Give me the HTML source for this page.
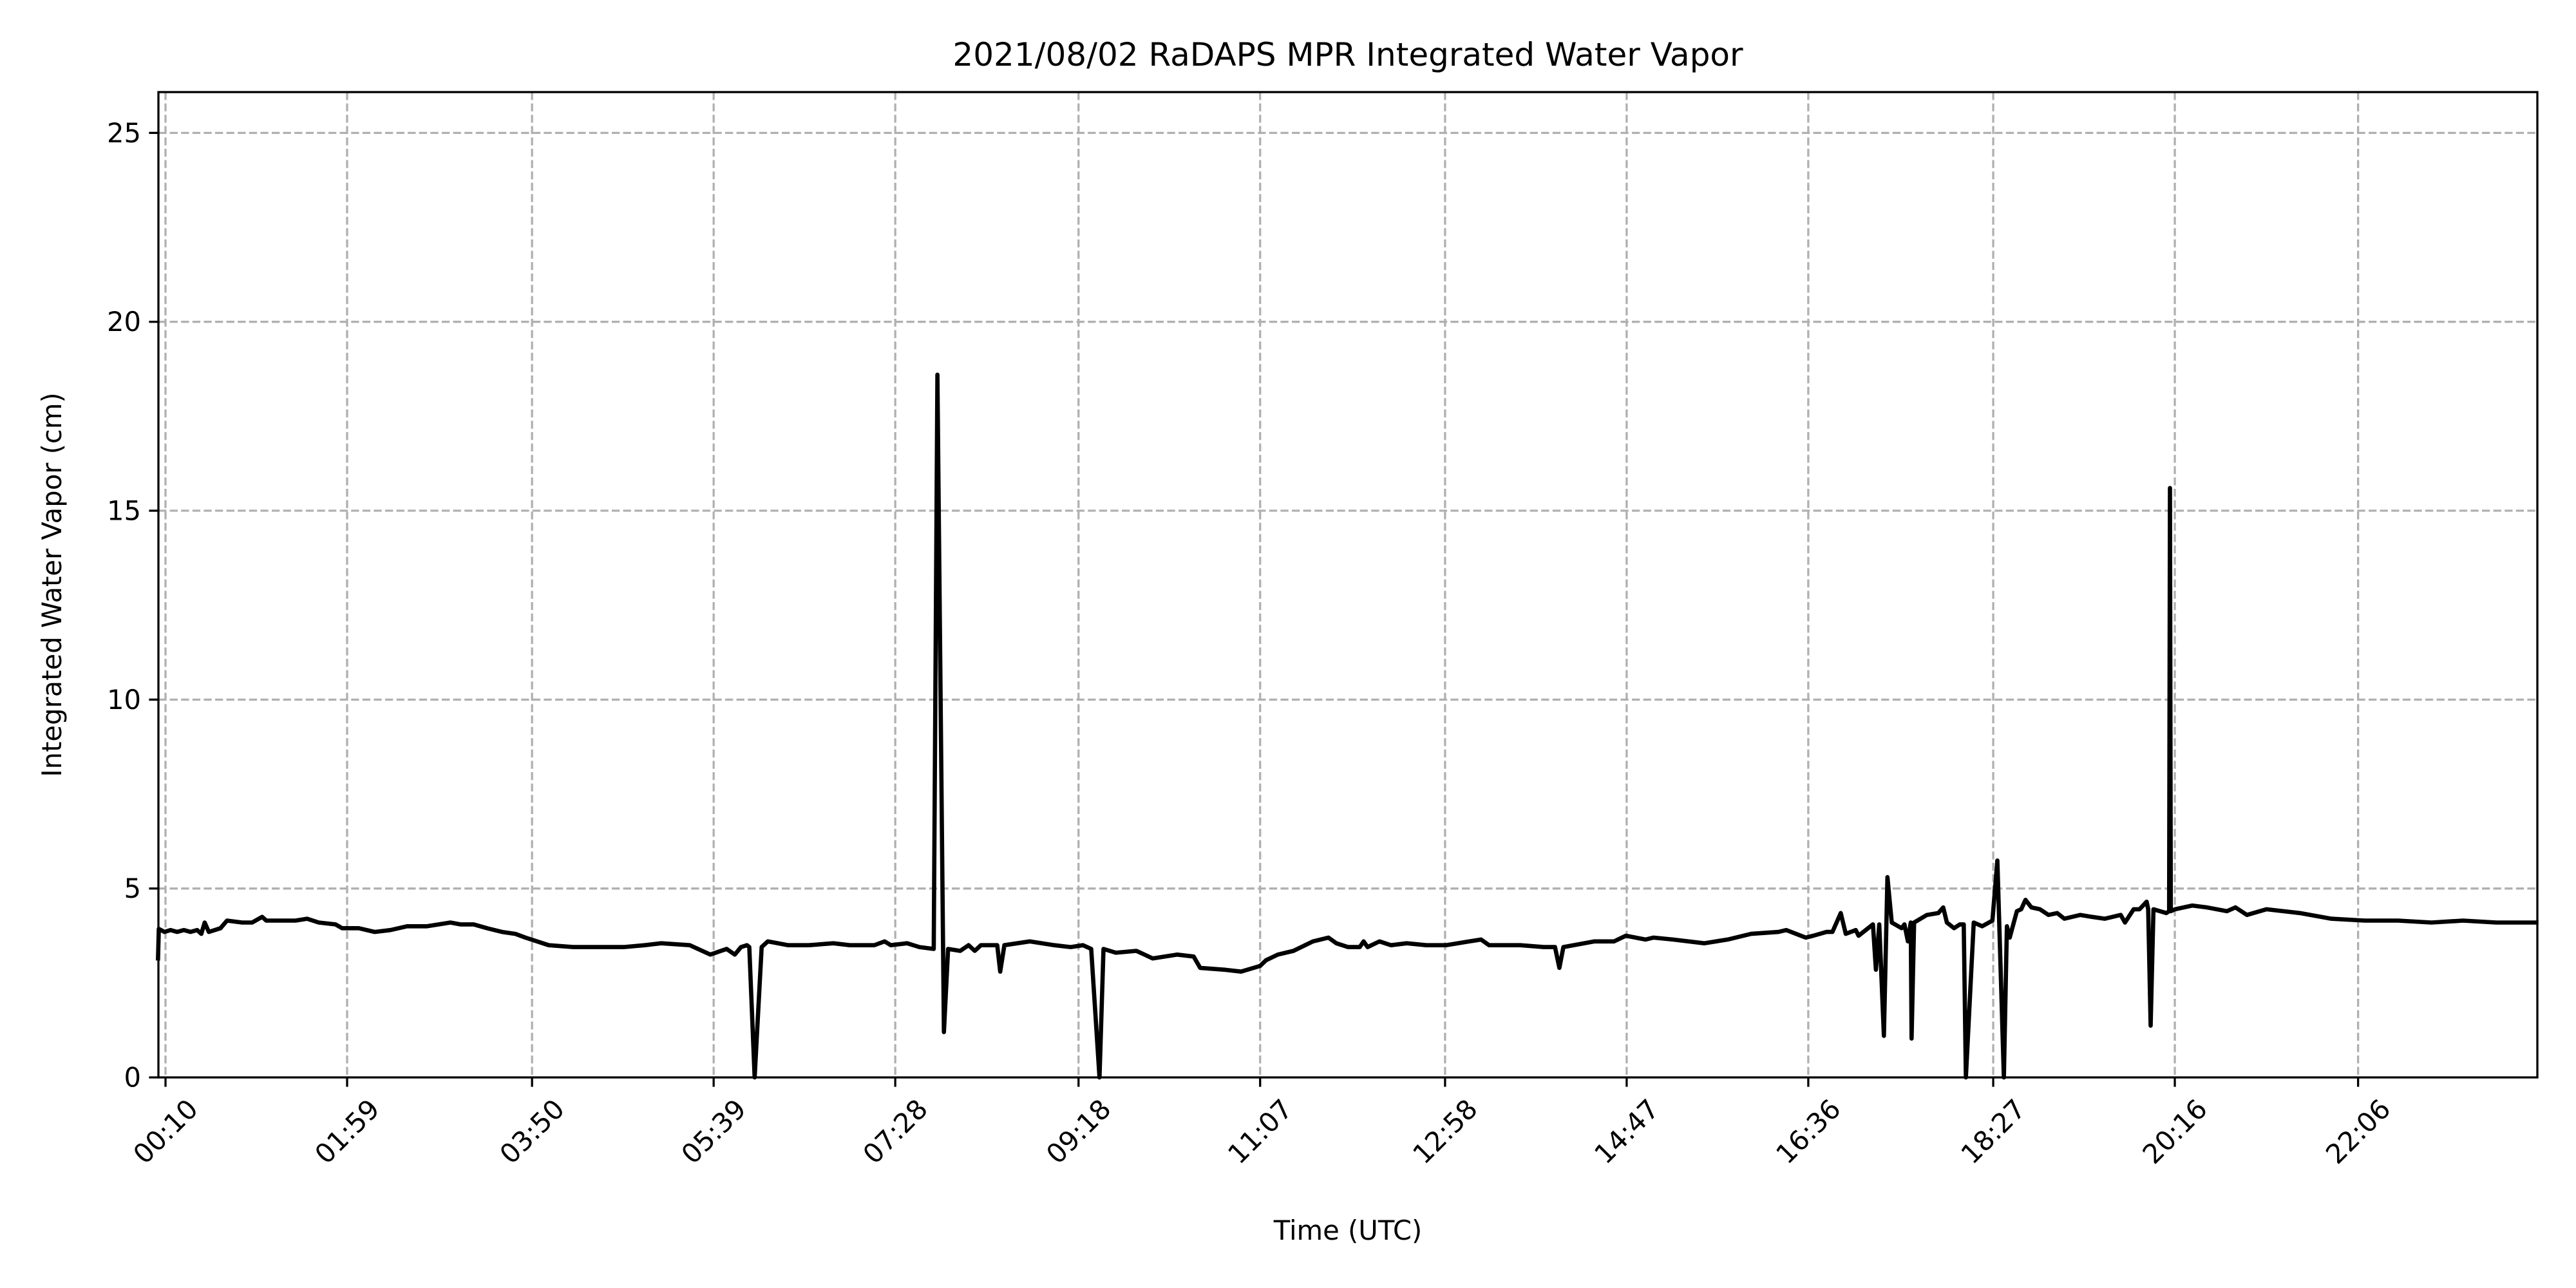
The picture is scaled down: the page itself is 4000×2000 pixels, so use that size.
<!DOCTYPE html>
<html><head><meta charset="utf-8"><style>
html,body{margin:0;padding:0;background:#fff;}
svg{display:block;font-family:"DejaVu Sans","Liberation Sans",sans-serif;}
</style></head><body>
<svg id="chart" width="4000" height="2000" viewBox="0 0 4000 2000" xmlns="http://www.w3.org/2000/svg">
<rect x="0" y="0" width="4000" height="2000" fill="#fff"/>
<text x="2093" y="102" font-size="50" text-anchor="middle">2021/08/02 RaDAPS MPR Integrated Water Vapor</text>
<g id="grid"></g>
<g id="series"></g>
<rect x="246" y="143" width="3694" height="1530" fill="none" stroke="#000" stroke-width="3.3"/>
<g id="xaxis"></g>
<g id="yaxis"></g>
<text x="2093" y="1925" font-size="41.7" text-anchor="middle">Time (UTC)</text>
<text transform="translate(95,908) rotate(-90)" font-size="41.7" text-anchor="middle">Integrated Water Vapor (cm)</text>
</svg>
<script>
const xTickMinutes = [10,119,230,339,448,558,667,778,887,996,1107,1216,1326];
const xTickLabels = ["00:10","01:59","03:50","05:39","07:28","09:18","11:07","12:58","14:47","16:36","18:27","20:16","22:06"];
const yTicks = [0,5,10,15,20,25];
const times = [5.5,6,9.4,13,17,21,25,29,31.5,33.5,36,43,46.9,56,62,68,70.5,78,88,95,102,112,116,126,135.6,145,155,167,181,187,195,203,212,220,226,240,255,285,297.7,307.5,324.7,329.6,337,346.8,351.7,355.4,359,360.4,363.6,367.8,371.5,383.8,396.1,410.8,420.7,435.4,441.6,445.3,455.1,462.5,471.1,473.3,477.2,479.7,487,492,495.7,499.4,509.2,511,513.5,528.7,543.5,553.3,560.7,565.6,570.6,573,580.4,592.7,602.5,617.3,627.1,631,645.8,655.6,667,670.5,677.6,687,698.7,708,712.7,719.8,726.8,729.1,731.5,738.6,745.6,755,766.7,778.5,792.6,799.6,804.4,823.1,837.2,844,846.6,849,867.7,879.4,886.5,898.3,903,914.7,933.5,947.6,961.7,978.1,982.8,994.5,999,1007,1010.5,1015.5,1018.5,1024.5,1026.2,1034.8,1036.6,1038.6,1041.4,1043.5,1046.1,1052,1053.7,1055.8,1057.5,1058,1059.5,1067.2,1074.1,1077,1079.2,1083.5,1087,1089.3,1090.6,1095.3,1100.4,1106.5,1109.5,1113.4,1115.2,1116.9,1121.2,1123.8,1126.4,1129.9,1135,1140.2,1145.4,1149.7,1159.3,1166.2,1174,1183.5,1186.1,1191.3,1194.8,1199.1,1200,1201.5,1203.2,1210.9,1212.6,1213.1,1213.6,1216.2,1226.5,1235.2,1247.3,1252.4,1259.3,1271,1291,1310,1330,1350,1370,1389,1409,1433];
const values = [3.15,3.93,3.85,3.9,3.85,3.9,3.85,3.9,3.8,4.1,3.85,3.95,4.15,4.1,4.1,4.25,4.15,4.15,4.15,4.2,4.1,4.05,3.95,3.95,3.85,3.9,4.0,4.0,4.1,4.05,4.05,3.95,3.85,3.8,3.7,3.5,3.45,3.45,3.5,3.55,3.5,3.4,3.25,3.4,3.25,3.45,3.5,3.45,0,3.45,3.6,3.5,3.5,3.55,3.5,3.5,3.6,3.5,3.55,3.45,3.4,18.6,1.2,3.4,3.35,3.5,3.35,3.5,3.5,2.8,3.5,3.6,3.5,3.45,3.5,3.4,0,3.4,3.3,3.35,3.15,3.25,3.2,2.9,2.85,2.8,2.95,3.1,3.25,3.35,3.6,3.7,3.55,3.45,3.45,3.6,3.45,3.6,3.5,3.55,3.5,3.5,3.6,3.65,3.5,3.5,3.45,3.45,2.9,3.45,3.6,3.6,3.75,3.65,3.7,3.65,3.55,3.65,3.8,3.85,3.9,3.7,3.75,3.85,3.85,4.35,3.8,3.9,3.75,4.05,2.85,4.05,1.1,5.3,4.1,3.95,4.05,3.6,4.1,1.03,4.1,4.3,4.35,4.5,4.1,3.95,4.05,4.05,0,4.1,4.0,4.15,5.74,0,4.0,3.7,4.4,4.45,4.7,4.5,4.45,4.3,4.35,4.2,4.3,4.25,4.2,4.3,4.1,4.45,4.45,4.65,4.45,1.37,4.45,4.35,4.4,15.6,4.4,4.45,4.55,4.5,4.4,4.5,4.3,4.45,4.35,4.2,4.15,4.15,4.1,4.15,4.1,4.1];

const L=246,R=3940,T=143,B=1673,XMIN=5.75,XMAX=1433.6,YMAX=26.08;
const NS='http://www.w3.org/2000/svg';
function xScale(m){return L+(m-XMIN)/(XMAX-XMIN)*(R-L);}
function yScale(v){return B-v/YMAX*(B-T);}
function mk(tag,attrs){const e=document.createElementNS(NS,tag);for(const k in attrs)e.setAttribute(k,attrs[k]);return e;}
const grid=document.getElementById('grid'),xa=document.getElementById('xaxis'),ya=document.getElementById('yaxis'),sg=document.getElementById('series');
xTickMinutes.forEach((m,i)=>{
  const x=xScale(m);
  const g=mk('line',{x1:x,x2:x,y1:T,y2:B,stroke:'#b0b0b0','stroke-width':3.3,'stroke-dasharray':'12.3 5.3'});
  
  
  grid.appendChild(g);
  const t=mk('line',{x1:x,x2:x,y1:B,y2:B+14.6,stroke:'#000','stroke-width':3.3});
  
  
  xa.appendChild(t);
  const lb=mk('text',{x:x,y:1757,'font-size':41.7,'text-anchor':'middle','dominant-baseline':'central',transform:'rotate(-45 '+x+' 1757)'});
  lb.textContent=xTickLabels[i];
  
  
  xa.appendChild(lb);
});
yTicks.forEach(v=>{
  const y=yScale(v);
  if(v>0){
    const g=mk('line',{x1:L,x2:R,y1:y,y2:y,stroke:'#b0b0b0','stroke-width':3.3,'stroke-dasharray':'12.3 5.3'});
    
    
    grid.appendChild(g);
  }
  const t=mk('line',{x1:L-14.6,x2:L,y1:y,y2:y,stroke:'#000','stroke-width':3.3});
  
  
  ya.appendChild(t);
  const lb=mk('text',{x:L-27,y:y,'font-size':41.7,'text-anchor':'end','dominant-baseline':'central'});
  lb.textContent=String(v);
  
  
  ya.appendChild(lb);
});
let d='';
times.forEach((m,i)=>{d+=(i?'L':'M')+xScale(m).toFixed(1)+' '+yScale(values[i]).toFixed(1);});
const p=mk('path',{d:d,fill:'none',stroke:'#000','stroke-width':6.6,'stroke-linejoin':'round','stroke-linecap':'square'});


sg.appendChild(p);
</script>
</body></html>
